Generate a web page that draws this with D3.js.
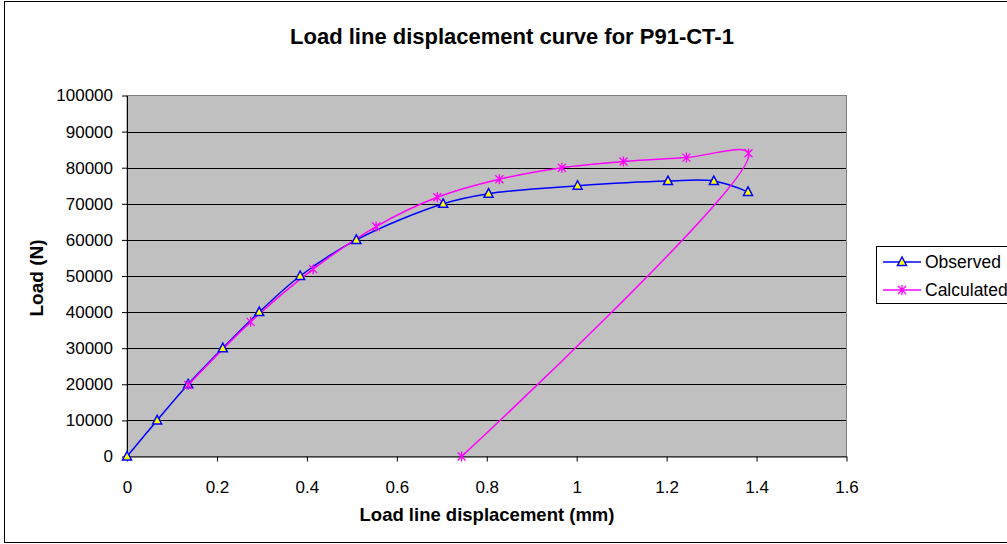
<!DOCTYPE html>
<html>
<head>
<meta charset="utf-8">
<script src="https://cdn.jsdelivr.net/npm/d3@7"></script>
<style>
  html, body { margin: 0; padding: 0; background: #fff; }
  svg { display: block; font-family: "Liberation Sans", Arial, sans-serif; }
</style>
</head>
<body>
<svg id="chart" width="1007" height="544"></svg>
<script>
// ---- data ----
const observedX = [0, 0.067, 0.136, 0.213, 0.294, 0.385, 0.510, 0.703, 0.804, 1.002, 1.203, 1.305, 1.381];
const observedY = [0, 10000, 20000, 30000, 40000, 50000, 60000, 70000, 72800, 75000, 76300, 76300, 73300];
const calculatedX = [0.136, 0.275, 0.414, 0.554, 0.690, 0.828, 0.967, 1.104, 1.244, 1.382, 0.744];
const calculatedY = [19800, 37300, 51900, 63700, 71800, 76800, 80000, 81700, 82800, 84000, 0];
const xTicks = [0, 0.2, 0.4, 0.6, 0.8, 1, 1.2, 1.4, 1.6];
const yTicks = [0, 10000, 20000, 30000, 40000, 50000, 60000, 70000, 80000, 90000, 100000];
const seriesNames = ["Observed", "Calculated"];
const titleText = "Load line displacement curve for P91-CT-1";
const xTitle = "Load line displacement (mm)";
const yTitle = "Load (N)";

const svg = d3.select("#chart");
const plot = { left: 127, right: 846.5, top: 95.5, bottom: 456.5 };

const x = d3.scaleLinear().domain([0, 1.6]).range([plot.left, plot.right]);
const y = d3.scaleLinear().domain([0, 100000]).range([plot.bottom, plot.top]);

// outer chart border
svg.append("rect").attr("x", 4.5).attr("y", 1.5).attr("width", 1100).attr("height", 541)
  .attr("fill", "#fff").attr("stroke", "#000").attr("stroke-width", 1);

// title
svg.append("text").attr("x", 512).attr("y", 44).attr("text-anchor", "middle")
  .attr("font-size", 22).attr("font-weight", "bold").attr("fill", "#000").text(titleText);

// plot background
svg.append("rect").attr("x", plot.left).attr("y", plot.top)
  .attr("width", plot.right - plot.left).attr("height", plot.bottom - plot.top)
  .attr("fill", "#C0C0C0");

// gridlines
svg.append("g").selectAll("line").data(yTicks.filter(d => d > 0 && d < 100000)).join("line")
  .attr("x1", plot.left).attr("x2", plot.right)
  .attr("y1", d => Math.round(y(d)) + 0.5).attr("y2", d => Math.round(y(d)) + 0.5)
  .attr("stroke", "#000").attr("stroke-width", 1);

// plot border
svg.append("rect").attr("x", plot.left).attr("y", plot.top)
  .attr("width", plot.right - plot.left).attr("height", plot.bottom - plot.top)
  .attr("fill", "none").attr("stroke", "#808080").attr("stroke-width", 1);

// axes
const xAxis = svg.append("g").attr("transform", `translate(0,${plot.bottom})`)
  .call(d3.axisBottom(x).tickValues(xTicks).tickFormat(d3.format("")).tickSize(5).tickSizeOuter(0));
const yAxis = svg.append("g").attr("transform", `translate(${plot.left},0)`)
  .call(d3.axisLeft(y).tickValues(yTicks).tickFormat(d3.format("d")).tickSize(5).tickSizeOuter(0));
[xAxis, yAxis].forEach(g => {
  g.select(".domain").attr("stroke", "#000");
  g.selectAll(".tick line").attr("stroke", "#000");
  g.selectAll(".tick text").attr("font-size", 17).attr("fill", "#000")
    .attr("font-family", "Liberation Sans, Arial, sans-serif");
});
xAxis.selectAll(".tick text").attr("dy", "28px");
yAxis.selectAll(".tick text").attr("dx", "-6px");

// axis titles
svg.append("text").attr("x", 487).attr("y", 521).attr("text-anchor", "middle")
  .attr("font-size", 18.5).attr("font-weight", "bold").attr("fill", "#000").text(xTitle);
svg.append("text").attr("transform", "translate(43,278) rotate(-90)").attr("text-anchor", "middle")
  .attr("font-size", 19).attr("font-weight", "bold").attr("fill", "#000").text(yTitle);

// series
const observed = observedX.map((v, i) => [v, observedY[i]]);
const calculated = calculatedX.map((v, i) => [v, calculatedY[i]]);
const line = d3.line().x(d => x(d[0])).y(d => y(d[1])).curve(d3.curveCatmullRom.alpha(0.5));

svg.append("path").datum(observed).attr("d", line)
  .attr("fill", "none").attr("stroke", "#0000FF").attr("stroke-width", 1.5);
svg.append("path").datum(calculated).attr("d", line)
  .attr("fill", "none").attr("stroke", "#FF00FF").attr("stroke-width", 1.5);

const tri = "M0,-5L4.5,3.5L-4.5,3.5Z";
function triangle(g, cx, cy) {
  g.append("path").attr("d", tri).attr("transform", `translate(${cx},${cy})`)
    .attr("fill", "#FFFF00").attr("stroke", "#0000FF").attr("stroke-width", 1.5);
}
const starPath = "M-4,-4L4,4M-4,4L4,-4M0,-5L0,5";
function star(g, cx, cy) {
  g.append("path").attr("d", starPath).attr("transform", `translate(${cx},${cy})`)
    .attr("fill", "none").attr("stroke", "#FF00FF").attr("stroke-width", 1.3);
}
const mk1 = svg.append("g");
observed.forEach(d => triangle(mk1, x(d[0]), y(d[1])));
const mk2 = svg.append("g");
calculated.forEach(d => star(mk2, x(d[0]), y(d[1])));

// legend
const lg = svg.append("g");
lg.append("rect").attr("x", 876.5).attr("y", 246.5).attr("width", 200).attr("height", 57)
  .attr("fill", "#fff").attr("stroke", "#000").attr("stroke-width", 1);
const legendY = [262, 290];
seriesNames.forEach((name, i) => {
  const ly = legendY[i];
  lg.append("line").attr("x1", 883).attr("x2", 921).attr("y1", ly).attr("y2", ly)
    .attr("stroke", i === 0 ? "#0000FF" : "#FF00FF").attr("stroke-width", 1.5);
  if (i === 0) triangle(lg, 902, ly); else star(lg, 902, ly);
  lg.append("text").attr("x", 925).attr("y", ly + 6).attr("font-size", 17.5)
    .attr("fill", "#000").text(name);
});
</script>
</body>
</html>
